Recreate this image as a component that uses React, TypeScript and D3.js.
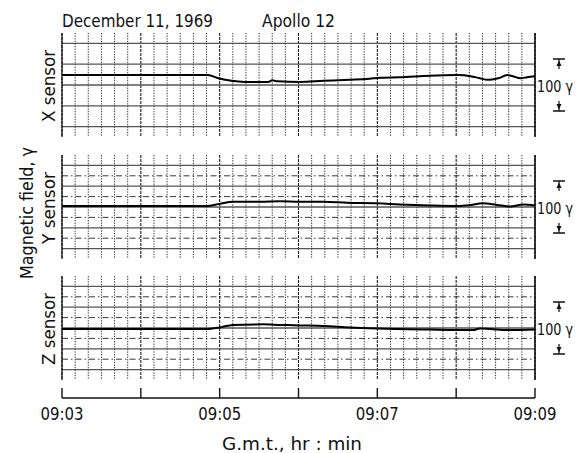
import React from "react";
import * as d3 from "d3";

// ---- data (seconds after 09:03:00 GMT, field in gamma on a 0..200 panel scale) ----
const X_TIME = [0, 111, 119, 129, 139, 157, 160, 164, 181, 199, 219, 234, 242, 257, 280, 301, 311, 318, 324, 332, 339, 343, 349, 354, 360];
const X_FIELD = [119, 119, 113, 108, 106, 106, 109, 107, 106, 108, 110, 112, 114, 115, 118, 119, 117, 113, 110, 113, 119, 117, 113, 115, 117];

const Y_TIME = [0, 110, 120, 130, 151, 166, 181, 199, 217, 240, 257, 280, 301, 311, 320, 331, 341, 351, 360];
const Y_FIELD = [102, 102, 106, 110, 110, 111, 110, 110, 108, 107, 105, 103, 102, 104, 107, 104, 101, 105, 103];

const Z_TIME = [0, 110, 120, 130, 153, 166, 181, 199, 219, 240, 280, 313, 318, 326, 339, 360];
const Z_FIELD = [98, 98, 101, 106, 107, 106, 105, 104, 101, 99, 97, 96, 99, 98, 96, 97];

const SENSOR_LABELS = ["X sensor", "Y sensor", "Z sensor"];
const TICK_LABELS = ["09:03", "", "09:05", "", "09:07", "", "09:09"];
const FIELD_GRID = [20, 40, 60, 80, 100, 120, 140, 160, 180];
const SCALE_BAR = [50, 150];
const START = Date.UTC(1969, 11, 11, 9, 3, 0);

const FONT = "'DejaVu Sans Condensed', 'Liberation Sans Narrow', 'DejaVu Sans', sans-serif";

export default function App() {
  const W = 583, H = 453;
  const left = 62, right = 535;
  const panelTops = [33, 155, 276];
  const panelH = 104;
  const axisY = 398;

  const x = d3.scaleUtc().domain([new Date(START), new Date(START + 360000)]).range([left, right]);
  const minuteTicks = d3.utcMinute.range(new Date(START), new Date(START + 360001));
  const gridTimes = d3.utcSecond.every(10)!.range(new Date(START), new Date(START + 360001));

  const series = [
    { t: X_TIME, v: X_FIELD, minor: false },
    { t: Y_TIME, v: Y_FIELD, minor: true },
    { t: Z_TIME, v: Z_FIELD, minor: true },
  ];

  return (
    <svg width={W} height={H} style={{ position: "absolute", left: 0, top: 0, background: "#fff" }}
      fontFamily={FONT}>
      <rect x={0} y={0} width={W} height={H} fill="#fff" />
      <text x={62} y={27} fontSize={18.5} textLength={151} lengthAdjust="spacingAndGlyphs" fill="#111">December 11, 1969</text>
      <text x={262} y={27} fontSize={18.5} textLength={73} lengthAdjust="spacingAndGlyphs" fill="#111">Apollo 12</text>

      <text transform={`translate(33,213) rotate(-90)`} textAnchor="middle" fontSize={18.5}
        textLength={132} lengthAdjust="spacingAndGlyphs" fill="#111">Magnetic field, γ</text>

      {series.map((s, i) => {
        const top = panelTops[i];
        const y = d3.scaleLinear().domain([0, 200]).range([top + panelH, top]);
        const line = d3.line<number>()
          .x((_, k) => x(new Date(START + s.t[k] * 1000)))
          .y((d) => y(d))
          .curve(d3.curveMonotoneX);
        const cx = 559;
        const yt = y(SCALE_BAR[1]);
        const yb = y(SCALE_BAR[0]);
        return (
          <g key={i}>
            {gridTimes.map((d, k) => (
              <line key={"v" + k} x1={x(d)} x2={x(d)} y1={top} y2={top + panelH}
                stroke="#1a1a1a" strokeWidth={k % 6 === 0 ? 1.1 : 0.9}
                strokeDasharray={k % 6 === 0 ? "3,1" : "1.3,1.3"} />
            ))}
            {FIELD_GRID.filter((g) => s.minor || g % 40 !== 0).map((g) => (
              g % 40 === 0 ? (
                <line key={"h" + g} x1={left} x2={right} y1={y(g)} y2={y(g)}
                  stroke="#222" strokeWidth={0.9} strokeDasharray="6,3,1.5,3" />
              ) : (
                <line key={"h" + g} x1={left} x2={right} y1={y(g)} y2={y(g)}
                  stroke="#555" strokeWidth={1.3} />
              )
            ))}
            <line x1={left} x2={left} y1={top} y2={top + panelH} stroke="#111" strokeWidth={1.2} />
            <line x1={right} x2={right} y1={top} y2={top + panelH} stroke="#111" strokeWidth={1.6} />
            <path d={line(s.v) || ""} fill="none" stroke="#000" strokeWidth={2} />

            <text transform={`translate(55,${top + panelH / 2 + 1}) rotate(-90)`} textAnchor="middle"
              fontSize={18.5} textLength={72} lengthAdjust="spacingAndGlyphs" fill="#111">{SENSOR_LABELS[i]}</text>

            <text x={537} y={y(100) + 7} fontSize={16.5} textLength={36} lengthAdjust="spacingAndGlyphs" fill="#111">100 γ</text>
            <line x1={cx - 6} x2={cx + 6} y1={yt} y2={yt} stroke="#111" strokeWidth={1.5} />
            <path d={`M${cx},${yt + 1.5} L${cx - 2.5},${yt + 7} L${cx + 2.5},${yt + 7} Z`} fill="#111" />
            <line x1={cx} x2={cx} y1={yt} y2={yt + 10} stroke="#111" strokeWidth={1.2} />
            <line x1={cx - 6} x2={cx + 6} y1={yb} y2={yb} stroke="#111" strokeWidth={1.5} />
            <path d={`M${cx},${yb - 1.5} L${cx - 2.5},${yb - 7} L${cx + 2.5},${yb - 7} Z`} fill="#111" />
            <line x1={cx} x2={cx} y1={yb} y2={yb - 10} stroke="#111" strokeWidth={1.2} />
          </g>
        );
      })}

      <line x1={left} x2={right} y1={axisY} y2={axisY} stroke="#111" strokeWidth={1.4} />
      {minuteTicks.map((d, k) => (
        <g key={k}>
          <line x1={x(d)} x2={x(d)} y1={axisY} y2={axisY - 10} stroke="#111" strokeWidth={1.4} />
          {TICK_LABELS[k] ? (
            <text x={x(d)} y={420} textAnchor="middle" fontSize={18.5} textLength={43}
              lengthAdjust="spacingAndGlyphs" fill="#111">{TICK_LABELS[k]}</text>
          ) : null}
        </g>
      ))}
      <text x={292} y={450} textAnchor="middle" fontSize={18} textLength={140}
        lengthAdjust="spacingAndGlyphs" fill="#111">G.m.t., hr : min</text>
    </svg>
  );
}
